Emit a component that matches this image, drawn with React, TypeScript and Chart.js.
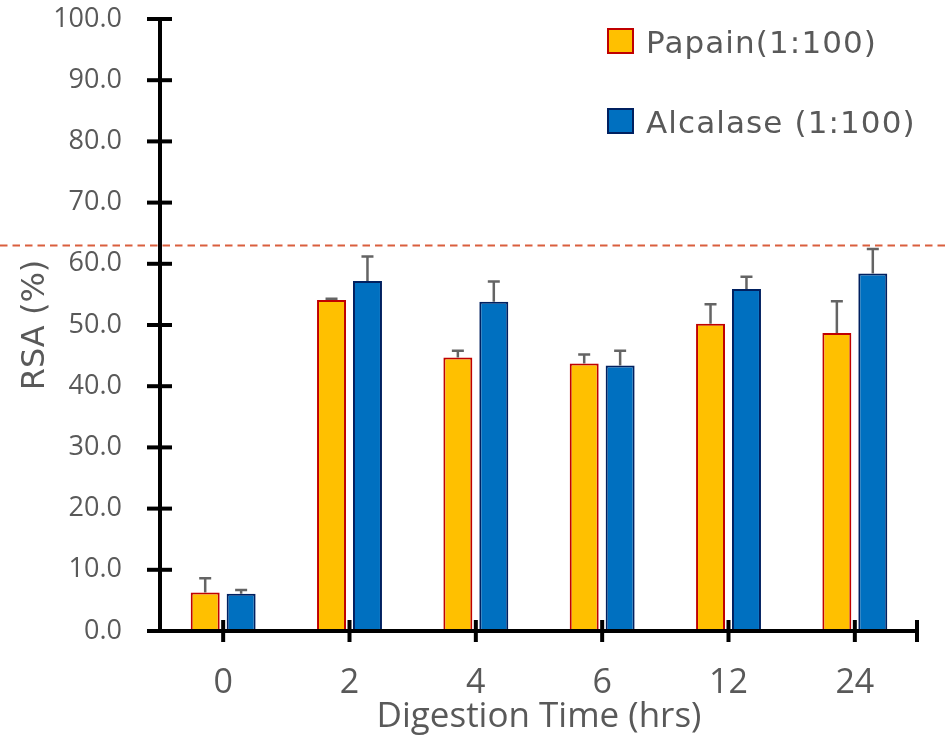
import React, { useEffect, useRef } from 'react';
import { Chart, registerables } from 'chart.js';

Chart.register(...registerables);

// ---- data ----
const categories = ['0', '2', '4', '6', '12', '24'];
const papainValues = [6.3, 54.1, 44.7, 43.7, 50.2, 48.7];
const papainErrors = [2.3, 0.2, 1.1, 1.5, 3.2, 5.2];
const alcalaseValues = [6.1, 57.2, 53.8, 43.4, 55.9, 58.4];
const alcalaseErrors = [0.6, 4.0, 3.3, 2.4, 2.0, 4.0];
const seriesNames = ['Papain(1:100)', 'Alcalase (1:100)'];
const yMin = 0;
const yMax = 100;
const yStep = 10;
const referenceLevel = 63.0;
const xTitle = 'Digestion Time (hrs)';
const yTitle = 'RSA (%)';

const TEXT = '#595959';
const fills = ['#FFC000', '#0070C0'];
const borders = ['#C00000', '#002060'];

const decorPlugin = {
  id: 'decor',
  afterDatasetsDraw(chart: any) {
    const { ctx, chartArea, scales } = chart;
    const xs = scales.x;
    const ys = scales.y;
    const vals = [papainValues, alcalaseValues];
    const errs = [papainErrors, alcalaseErrors];
    ctx.save();
    // error bars
    ctx.strokeStyle = '#646464';
    ctx.lineWidth = 2.5;
    ctx.lineCap = 'butt';
    chart.data.datasets.forEach((_ds: any, di: number) => {
      const meta = chart.getDatasetMeta(di);
      meta.data.forEach((bar: any, i: number) => {
        const top = ys.getPixelForValue(vals[di][i]);
        const cap = ys.getPixelForValue(vals[di][i] + errs[di][i]);
        ctx.beginPath();
        ctx.moveTo(bar.x, top);
        ctx.lineTo(bar.x, cap);
        ctx.moveTo(bar.x - 6, cap);
        ctx.lineTo(bar.x + 6, cap);
        ctx.stroke();
      });
    });
    // reference dashed line
    const ry = ys.getPixelForValue(referenceLevel);
    ctx.strokeStyle = '#DA5F3E';
    ctx.lineWidth = 2;
    ctx.setLineDash([7.5, 5]);
    ctx.beginPath();
    ctx.moveTo(0, ry);
    ctx.lineTo(chart.width, ry);
    ctx.stroke();
    ctx.setLineDash([]);
    // axes
    const y0 = ys.getPixelForValue(yMin);
    const yTop = ys.getPixelForValue(yMax);
    const ax = chartArea.left;
    ctx.strokeStyle = '#000000';
    ctx.lineWidth = 4;
    ctx.beginPath();
    ctx.moveTo(ax, yTop);
    ctx.lineTo(ax, y0);
    ctx.stroke();
    ctx.beginPath();
    ctx.moveTo(ax - 13, y0);
    ctx.lineTo(chartArea.right, y0);
    ctx.stroke();
    for (let v = yMin; v <= yMax; v += yStep) {
      const py = ys.getPixelForValue(v);
      ctx.beginPath();
      ctx.moveTo(ax - 13, py);
      ctx.lineTo(ax + 12, py);
      ctx.stroke();
    }
    const tickXs = categories.map((_c, i) => xs.getPixelForValue(i));
    tickXs.push(chartArea.right - 1);
    tickXs.forEach((px) => {
      ctx.beginPath();
      ctx.moveTo(px, y0 - 11);
      ctx.lineTo(px, y0 + 11);
      ctx.stroke();
    });
    // legend
    ctx.font = '31px "DejaVu Sans"';
    try {
      ctx.letterSpacing = '1.1px';
    } catch (e) {}
    ctx.textAlign = 'left';
    ctx.textBaseline = 'alphabetic';
    const legendRows = [53, 133];
    seriesNames.forEach((name, i) => {
      const base = legendRows[i];
      ctx.fillStyle = fills[i];
      ctx.fillRect(608, base - 24, 25, 24);
      ctx.strokeStyle = borders[i];
      ctx.lineWidth = 2;
      ctx.strokeRect(608, base - 24, 25, 24);
      ctx.fillStyle = TEXT;
      ctx.fillText(name, 646, base);
    });
    ctx.restore();
  },
};

export default function App() {
  const ref = useRef<HTMLCanvasElement>(null);
  useEffect(() => {
    document.body.style.margin = '0';
    const canvas = ref.current!;
    const chart = new Chart(canvas, {
      type: 'bar',
      data: {
        labels: categories,
        datasets: [
          {
            label: seriesNames[0],
            data: papainValues,
            backgroundColor: fills[0],
            borderColor: borders[0],
            borderWidth: 2,
            categoryPercentage: 0.569,
            barPercentage: 0.806,
          },
          {
            label: seriesNames[1],
            data: alcalaseValues,
            backgroundColor: fills[1],
            borderColor: borders[1],
            borderWidth: 2,
            categoryPercentage: 0.569,
            barPercentage: 0.806,
          },
        ],
      },
      options: {
        animation: false,
        responsive: false,
        maintainAspectRatio: false,
        layout: { padding: { top: 19, right: 27, bottom: 0, left: 0 } },
        plugins: { legend: { display: false }, tooltip: { enabled: false } },
        scales: {
          x: {
            offset: true,
            grid: { display: false, drawTicks: false },
            border: { display: false },
            ticks: {
              color: TEXT,
              font: { family: '"Open Sans"', size: 34 },
              padding: 32,
              maxRotation: 0,
            },
            title: {
              display: true,
              text: xTitle,
              color: TEXT,
              font: { family: '"Open Sans"', size: 35 },
              padding: { top: 0, bottom: 4 },
            },
            afterFit: (s: any) => {
              s.height = 111;
              s.paddingLeft = 0;
              s.paddingRight = 0;
            },
          },
          y: {
            min: yMin,
            max: yMax,
            grid: { display: false, drawTicks: false },
            border: { display: false },
            ticks: {
              stepSize: yStep,
              color: TEXT,
              font: { family: '"Open Sans"', size: 27 },
              padding: 38,
              callback: (v: any) => Number(v).toFixed(1),
            },
            title: {
              display: true,
              text: yTitle,
              color: TEXT,
              font: { family: '"DejaVu Sans"', size: 32 },
              padding: { top: 16, bottom: 0 },
            },
            afterFit: (s: any) => {
              s.width = 160;
              s.paddingTop = 0;
              s.paddingBottom = 0;
            },
          },
        },
      },
      plugins: [decorPlugin],
    });
    return () => chart.destroy();
  }, []);
  return (
    <div style={{ width: 945, height: 742 }}>
      <canvas ref={ref} width={945} height={742} />
    </div>
  );
}
